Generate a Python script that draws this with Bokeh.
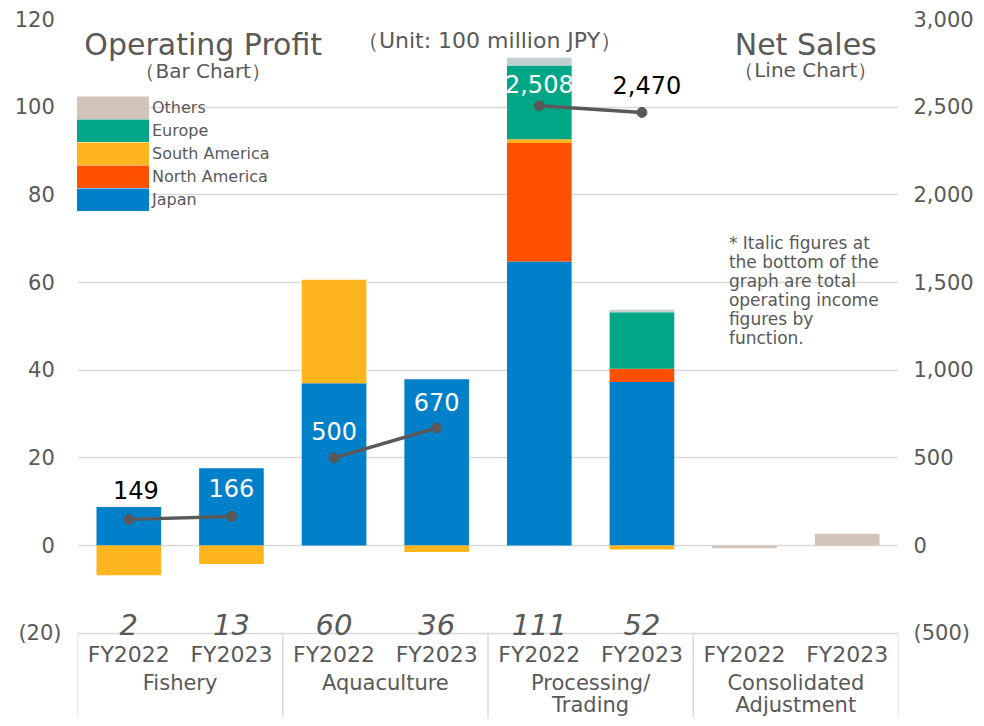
from bokeh.plotting import figure
from bokeh.models import (FactorRange, Range1d, LinearAxis, FixedTicker, Legend,
                          LegendItem, Label)
from bokeh.core.properties import value
from bokeh.embed import file_html
from bokeh.resources import INLINE

# ---------------- data ----------------
groups = ["Fishery", "Aquaculture", "Processing/Trading", "Consolidated Adjustment"]
group_line1 = ["Fishery", "Aquaculture", "Processing/", "Consolidated"]
group_line2 = ["", "", "Trading", "Adjustment"]
years = ["FY2022", "FY2023"]

# operating profit by region (100 million JPY), one value per (group, year)
japan = [8.8, 17.6, 37.0, 37.9, 64.8, 37.3, 0.0, 0.0]
north_america = [0.0, 0.0, 0.0, 0.0, 27.0, 3.0, 0.0, 0.0]
south_america = [-6.8, -4.2, 23.6, -1.5, 0.9, -0.9, 0.0, 0.0]
europe = [0.0, 0.0, 0.0, 0.0, 16.8, 12.9, 0.0, 0.0]
others = [0.0, 0.0, 0.0, 0.0, 1.8, 0.6, -0.6, 2.7]

op_totals = ["2", "13", "60", "36", "111", "52"]
net_sales = [149, 166, 500, 670, 2508, 2470]

left_tick_values = [-20, 0, 20, 40, 60, 80, 100, 120]
left_tick_labels = ["(20)", "0", "20", "40", "60", "80", "100", "120"]
right_tick_values = [-500, 0, 500, 1000, 1500, 2000, 2500, 3000]
right_tick_labels = ["(500)", "0", "500", "1,000", "1,500", "2,000", "2,500", "3,000"]

note_lines = ["* Italic figures at", "the bottom of the", "graph are total",
              "operating income", "figures by", "function."]

# ---------------- styles ----------------
GRAY = "#595959"
GRID = "#DADADA"
FONT = "DejaVu Sans"
C_JAPAN = "#0080C8"
C_NA = "#FF5000"
C_SA = "#FFB51E"
C_EU = "#00A685"
C_OTH = "#D3C4BA"
others_fill = [C_OTH, C_OTH, C_OTH, C_OTH, "#C2CFD0", "#C8D0D0", C_OTH, C_OTH]

W, H = 976, 718
FL, FR, FT = 77, 900, 19          # frame left / right / top (pixels)
X0, XW = float(FL), (FR - FL) / 8.0
Y0, YS = 545.0, 526.0 / 120


def dx(px):
    return (px - X0) / XW


def dy(py):
    return (Y0 - py) / YS


factors = [(g, y) for g in groups for y in years]
ratio = right_tick_values[-1] / left_tick_values[-1]
ybottom = dy(H)

p = figure(width=W, height=H,
           x_range=FactorRange(*factors, range_padding=0, group_padding=0,
                               factor_padding=0, subgroup_padding=0),
           y_range=Range1d(ybottom, left_tick_values[-1]),
           x_axis_location=None, output_backend="svg", toolbar_location=None,
           min_border_left=FL, min_border_right=W - FR, min_border_top=FT,
           min_border_bottom=0)
p.outline_line_color = None
p.background_fill_color = "white"
p.border_fill_color = "white"
p.extra_y_ranges = {"sales": Range1d(ybottom * ratio, right_tick_values[-1])}

# grid
p.xgrid.visible = False
p.ygrid.ticker = FixedTicker(ticks=left_tick_values)
p.ygrid.grid_line_color = GRID
p.ygrid.grid_line_width = 1.5

# left axis
ya = p.yaxis[0]
ya.ticker = FixedTicker(ticks=left_tick_values)
ya.major_label_overrides = {v: (l if l.startswith("(") else l + "\u00a0")
                            for v, l in zip(left_tick_values, left_tick_labels)}
ya.axis_line_color = None
ya.major_tick_line_color = None
ya.minor_tick_line_color = None
ya.major_tick_out = 0
ya.major_label_standoff = 16
ya.major_label_text_font = FONT
ya.major_label_text_font_size = "21px"
ya.major_label_text_color = GRAY

# right axis
ra = LinearAxis(y_range_name="sales", ticker=FixedTicker(ticks=right_tick_values))
ra.major_label_overrides = {v: l for v, l in zip(right_tick_values, right_tick_labels)}
ra.axis_line_color = None
ra.major_tick_line_color = None
ra.minor_tick_line_color = None
ra.major_tick_out = 0
ra.major_label_standoff = 15
ra.major_label_text_font = FONT
ra.major_label_text_font_size = "21px"
ra.major_label_text_color = GRAY
p.add_layout(ra, "right")

# table lines under the plot
bounds = [0]
for g in groups:
    bounds.append(bounds[-1] + len(years))
p.segment(x0=bounds, x1=bounds, y0=[left_tick_values[0]] * len(bounds),
          y1=[ybottom] * len(bounds), line_color=GRID, line_width=1.5)

# stacked bars
series = [("Japan", japan, C_JAPAN), ("North America", north_america, C_NA),
          ("South America", south_america, C_SA), ("Europe", europe, C_EU),
          ("Others", others, others_fill)]
pos = [0.0] * len(factors)
neg = [0.0] * len(factors)
for name, vals, color in series:
    bot, top = [], []
    for i, v in enumerate(vals):
        if v >= 0:
            b = pos[i]; t = b + v; pos[i] = t
        else:
            b = neg[i]; t = b + v; neg[i] = t
        bot.append(b); top.append(t)
    p.vbar(x=factors, bottom=bot, top=top, width=0.63, fill_color=color,
           line_color=None)

# legend (swatches drawn by single-point line renderers, which show no mark)
legend_order = [("Others", C_OTH), ("Europe", C_EU), ("South America", C_SA),
                ("North America", C_NA), ("Japan", C_JAPAN)]
items = []
for name, color in legend_order:
    r = p.line(x=[factors[0]], y=[0], line_color=color, line_width=23,
               line_cap="butt")
    items.append(LegendItem(label=name, renderers=[r]))
legend = Legend(items=items, location=(-1, H - 211), glyph_width=73,
                glyph_height=23, label_height=23, spacing=0, padding=0, margin=0,
                label_standoff=3, label_text_font=FONT,
                label_text_font_size="16px", label_text_color=GRAY,
                border_line_color=None, background_fill_alpha=0)
p.add_layout(legend, "center")

# net sales lines
n = len(net_sales)
sx = factors[:n]
xs, ys = [], []
for gi in range(n // len(years)):
    xs.append(sx[gi * 2: gi * 2 + 2])
    ys.append(net_sales[gi * 2: gi * 2 + 2])
p.multi_line(xs=xs, ys=ys, y_range_name="sales", line_color=GRAY, line_width=3.5)
p.scatter(x=sx, y=net_sales, y_range_name="sales", size=10, fill_color=GRAY,
          line_color=GRAY)
p.text(x=sx, y=net_sales, y_range_name="sales", text=[f"{v:,}" for v in net_sales],
       x_offset=[7, 0, 0, 0, 0, 5], y_offset=[-29, -28, -27, -26, -22, -27],
       text_color=["black", "white", "white", "white", "white", "black"],
       text_font=value(FONT), text_font_size="24px", text_align="center",
       text_baseline="alphabetic")

# italic totals
p.text(x=factors[:len(op_totals)], y=[left_tick_values[0]] * len(op_totals),
       text=op_totals, y_offset=-9, text_color=GRAY, text_font=value(FONT),
       text_font_size="29px", text_font_style="italic", text_align="center",
       text_baseline="alphabetic")

# category labels
p.text(x=factors, y=[dy(654)] * len(factors), text=[f[1] for f in factors],
       text_color=GRAY, text_font=value(FONT), text_font_size="22px",
       text_align="center", text_baseline="alphabetic")
p.text(x=groups, y=[dy(682)] * len(groups), text=group_line1,
       text_color=GRAY, text_font=value(FONT), text_font_size="21px",
       text_align="center", text_baseline="alphabetic")
p.text(x=groups, y=[dy(704)] * len(groups), text=group_line2,
       text_color=GRAY, text_font=value(FONT), text_font_size="21px",
       text_align="center", text_baseline="alphabetic")

# titles
def lab(txt, x, y, size, align="center"):
    p.add_layout(Label(x=dx(x), y=dy(y), text=txt, text_align=align,
                       text_baseline="alphabetic", text_font=FONT,
                       text_font_size=size, text_color=GRAY))

lab("Operating Profit", 203, 44, "30px")
lab("（Bar Chart）", 203, 70, "20px")
lab("（Unit: 100 million JPY）", 490, 40, "22px")
lab("Net Sales", 807, 44, "30px")
lab("（Line Chart）", 807, 69, "20px")

p.text(x=[dx(730)] * len(note_lines), y=[dy(242 + 19 * i) for i in range(len(note_lines))],
       text=note_lines, text_color=GRAY, text_font=value(FONT),
       text_font_size="17px", text_align="left", text_baseline="alphabetic")

open("out.html", "w").write(file_html(p, INLINE))
